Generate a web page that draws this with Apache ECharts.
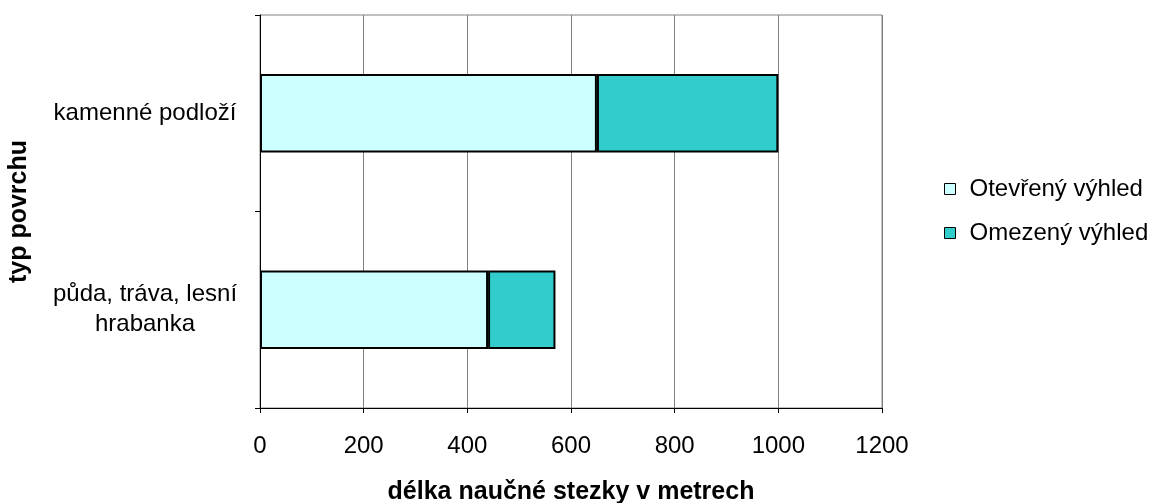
<!DOCTYPE html>
<html>
<head>
<meta charset="utf-8">
<script src="https://cdn.jsdelivr.net/npm/echarts@6/dist/echarts.min.js"></script>
<style>
  html, body { margin: 0; padding: 0; background: #fff; }
  #chart { width: 1156px; height: 503px; }
</style>
</head>
<body>
<div id="chart"></div>
<script>
// data
const categories = ['půda, tráva, lesní\nhrabanka', 'kamenné podloží']
const openView = [440, 650]
const limitedView = [130, 350]
const seriesNames = ['Otevřený výhled', 'Omezený výhled']

const font = 'Liberation Sans, Arial, sans-serif'

const chart = echarts.init(document.getElementById('chart'), null, { renderer: 'canvas' })

const barStyle = (color) => ({
  color,
  borderColor: '#000',
  borderWidth: 2
})

chart.setOption({
  animation: false,
  textStyle: { fontFamily: font, color: '#000' },
  grid: {
    left: 260, right: 274, top: 15, bottom: 95,
    outerBoundsMode: 'none',
    containLabel: false,
    show: true, borderColor: '#808080', borderWidth: 1
  },
  legend: {
    orient: 'vertical',
    left: 939, top: 172,
    itemWidth: 11, itemHeight: 11, itemGap: 20,
    icon: 'rect',
    itemStyle: { borderWidth: 1, borderColor: '#000' },
    textStyle: { fontSize: 24, color: '#000', fontFamily: font, padding: [0, 0, 0, 9] },
    data: seriesNames
  },
  xAxis: {
    type: 'value',
    min: 0, max: 1200, interval: 200,
    name: 'délka naučné stezky v metrech',
    nameLocation: 'middle', nameGap: 72,
    nameTextStyle: { fontSize: 25, fontWeight: 'bold', color: '#000' },
    axisLine: { show: true, lineStyle: { color: '#000', width: 1 } },
    axisTick: { show: true, length: 5, lineStyle: { color: '#000' } },
    axisLabel: { fontSize: 24, color: '#000', margin: 26, formatter: (v) => String(v) },
    splitLine: { show: true, lineStyle: { color: '#808080', width: 1 } }
  },
  yAxis: {
    type: 'category',
    data: categories,
    name: 'typ povrchu',
    nameLocation: 'middle', nameGap: 228, nameRotate: 90,
    nameTextStyle: { fontSize: 25, fontWeight: 'bold', color: '#000' },
    axisLine: { show: true, lineStyle: { color: '#000', width: 1 } },
    axisTick: { show: true, length: 5, lineStyle: { color: '#000' } },
    axisLabel: { fontSize: 24, color: '#000', align: 'center', margin: 115, lineHeight: 30 },
    splitLine: { show: false }
  },
  series: [
    {
      name: seriesNames[0], type: 'bar', stack: 'total',
      data: openView, barCategoryGap: '60%',
      itemStyle: barStyle('#CCFFFF')
    },
    {
      name: seriesNames[1], type: 'bar', stack: 'total',
      data: limitedView, barCategoryGap: '60%',
      itemStyle: barStyle('#33CCCC')
    }
  ]
})
</script>
</body>
</html>
